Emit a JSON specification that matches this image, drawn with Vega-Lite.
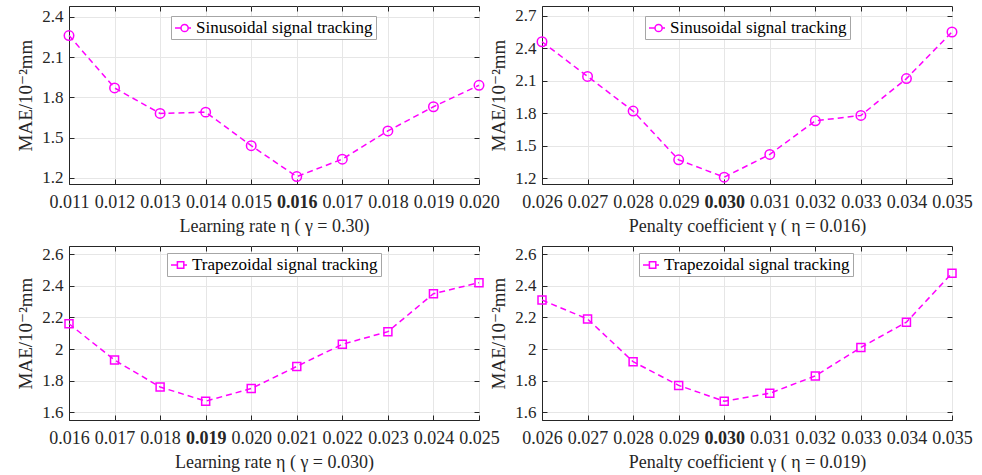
{
  "$schema": "https://vega.github.io/schema/vega-lite/v6.json",
  "background": "white",
  "padding": {"left": 16, "top": 5, "right": 5, "bottom": 5},
  "config": {
    "font": "'Liberation Serif', 'DejaVu Serif', serif",
    "axis": {
      "labelFont": "'Liberation Serif', 'DejaVu Serif', serif", "labelFontSize": 17, "labelColor": "#262626",
      "titleFont": "'Liberation Serif', 'DejaVu Serif', serif", "titleFontSize": 18, "titleFontWeight": "normal", "titleColor": "#262626",
      "gridColor": "#e6e6e6", "domainColor": "#262626", "tickColor": "#262626", "tickSize": -5,
      "labelOverlap": false, "labelFlush": false, "labelBound": false
    },
    "axisX": {"labelPadding": 14, "titlePadding": 6, "labelFontSize": 18},
    "axisY": {"labelPadding": 11, "titlePadding": 6, "titleFontSize": 19},
    "view": {"stroke": "#262626", "strokeWidth": 1},
    "legend": {
      "labelFont": "'Liberation Serif', 'DejaVu Serif', serif", "labelFontSize": 17, "labelColor": "black", "labelLimit": 400,
      "fillColor": "white", "strokeColor": "#a6a6a6", "padding": 3,
      "symbolStrokeColor": "#ff00ff", "symbolFillColor": "transparent", "symbolStrokeWidth": 1.5, "symbolDash": [],
      "symbolSize": 256, "labelOffset": 4
    }
  },
  "resolve": {"scale": {"color": "independent"}, "legend": {"color": "independent"}},
  "columns": 2,
  "spacing": {"row": 62, "column": 63},
  "bounds": "flush",
  "concat": [
    {
      "width": 410, "height": 178,
      "data": {"values": [
        {"x": 0.011, "y": 2.26, "s": "Sinusoidal signal tracking"},
        {"x": 0.012, "y": 1.87, "s": "Sinusoidal signal tracking"},
        {"x": 0.013, "y": 1.68, "s": "Sinusoidal signal tracking"},
        {"x": 0.014, "y": 1.69, "s": "Sinusoidal signal tracking"},
        {"x": 0.015, "y": 1.44, "s": "Sinusoidal signal tracking"},
        {"x": 0.016, "y": 1.21, "s": "Sinusoidal signal tracking"},
        {"x": 0.017, "y": 1.34, "s": "Sinusoidal signal tracking"},
        {"x": 0.018, "y": 1.55, "s": "Sinusoidal signal tracking"},
        {"x": 0.019, "y": 1.73, "s": "Sinusoidal signal tracking"},
        {"x": 0.020, "y": 1.89, "s": "Sinusoidal signal tracking"}
      ]},
      "encoding": {
        "x": {"field": "x", "type": "quantitative", "scale": {"domain": [0.011, 0.020], "nice": false, "zero": false},
          "axis": {"values": [0.011, 0.012, 0.013, 0.014, 0.015, 0.016, 0.017, 0.018, 0.019, 0.020], "format": ".3f", "title": "Learning rate η ( γ = 0.30)",
            "labelFontWeight": {"condition": {"test": "abs(datum.value-0.016)<1e-6", "value": "bold"}, "value": "normal"}}},
        "y": {"field": "y", "type": "quantitative", "scale": {"domain": [1.155, 2.48], "nice": false, "zero": false},
          "axis": {"values": [1.2, 1.5, 1.8, 2.1, 2.4], "format": "~g", "title": "MAE/10⁻²mm"}},
        "color": {"field": "s", "type": "nominal", "scale": {"range": ["#ff00ff"]},
          "legend": {"orient": "none", "legendX": 102, "legendY": 10, "title": null,
            "symbolType": "M-1,0H-0.25M0.65,0H1M0.65,0A0.45,0.45 0 1,1 -0.25,0A0.45,0.45 0 1,1 0.65,0"}}
      },
      "resolve": {"axis": {"x": "independent", "y": "independent"}},
      "layer": [
        {"mark": {"type": "line", "strokeDash": [6, 4], "strokeWidth": 1.5}},
        {"mark": {"type": "point", "shape": "circle", "filled": false, "size": 90, "strokeWidth": 1.5, "opacity": 1},
          "encoding": {
            "x": {"field": "x", "type": "quantitative", "axis": {"orient": "top", "values": [0.011, 0.012, 0.013, 0.014, 0.015, 0.016, 0.017, 0.018, 0.019, 0.020], "labels": false, "title": null, "grid": false, "domain": false}},
            "y": {"field": "y", "type": "quantitative", "axis": {"orient": "right", "values": [1.2, 1.5, 1.8, 2.1, 2.4], "labels": false, "title": null, "grid": false, "domain": false}}
          }}
      ]
    },
    {
      "width": 410, "height": 178,
      "data": {"values": [
        {"x": 0.026, "y": 2.46, "s": "Sinusoidal signal tracking"},
        {"x": 0.027, "y": 2.14, "s": "Sinusoidal signal tracking"},
        {"x": 0.028, "y": 1.82, "s": "Sinusoidal signal tracking"},
        {"x": 0.029, "y": 1.37, "s": "Sinusoidal signal tracking"},
        {"x": 0.030, "y": 1.21, "s": "Sinusoidal signal tracking"},
        {"x": 0.031, "y": 1.42, "s": "Sinusoidal signal tracking"},
        {"x": 0.032, "y": 1.73, "s": "Sinusoidal signal tracking"},
        {"x": 0.033, "y": 1.78, "s": "Sinusoidal signal tracking"},
        {"x": 0.034, "y": 2.12, "s": "Sinusoidal signal tracking"},
        {"x": 0.035, "y": 2.55, "s": "Sinusoidal signal tracking"}
      ]},
      "encoding": {
        "x": {"field": "x", "type": "quantitative", "scale": {"domain": [0.026, 0.035], "nice": false, "zero": false},
          "axis": {"values": [0.026, 0.027, 0.028, 0.029, 0.030, 0.031, 0.032, 0.033, 0.034, 0.035], "format": ".3f", "title": "Penalty coefficient γ ( η = 0.016)",
            "labelFontWeight": {"condition": {"test": "abs(datum.value-0.030)<1e-6", "value": "bold"}, "value": "normal"}}},
        "y": {"field": "y", "type": "quantitative", "scale": {"domain": [1.147, 2.79], "nice": false, "zero": false},
          "axis": {"values": [1.2, 1.5, 1.8, 2.1, 2.4, 2.7], "format": "~g", "title": "MAE/10⁻²mm"}},
        "color": {"field": "s", "type": "nominal", "scale": {"range": ["#ff00ff"]},
          "legend": {"orient": "none", "legendX": 103, "legendY": 10, "title": null,
            "symbolType": "M-1,0H-0.25M0.65,0H1M0.65,0A0.45,0.45 0 1,1 -0.25,0A0.45,0.45 0 1,1 0.65,0"}}
      },
      "resolve": {"axis": {"x": "independent", "y": "independent"}},
      "layer": [
        {"mark": {"type": "line", "strokeDash": [6, 4], "strokeWidth": 1.5}},
        {"mark": {"type": "point", "shape": "circle", "filled": false, "size": 90, "strokeWidth": 1.5, "opacity": 1},
          "encoding": {
            "x": {"field": "x", "type": "quantitative", "axis": {"orient": "top", "values": [0.026, 0.027, 0.028, 0.029, 0.030, 0.031, 0.032, 0.033, 0.034, 0.035], "labels": false, "title": null, "grid": false, "domain": false}},
            "y": {"field": "y", "type": "quantitative", "axis": {"orient": "right", "values": [1.2, 1.5, 1.8, 2.1, 2.4, 2.7], "labels": false, "title": null, "grid": false, "domain": false}}
          }}
      ]
    },
    {
      "width": 410, "height": 174,
      "data": {"values": [
        {"x": 0.016, "y": 2.16, "s": "Trapezoidal signal tracking"},
        {"x": 0.017, "y": 1.93, "s": "Trapezoidal signal tracking"},
        {"x": 0.018, "y": 1.76, "s": "Trapezoidal signal tracking"},
        {"x": 0.019, "y": 1.67, "s": "Trapezoidal signal tracking"},
        {"x": 0.020, "y": 1.75, "s": "Trapezoidal signal tracking"},
        {"x": 0.021, "y": 1.89, "s": "Trapezoidal signal tracking"},
        {"x": 0.022, "y": 2.03, "s": "Trapezoidal signal tracking"},
        {"x": 0.023, "y": 2.11, "s": "Trapezoidal signal tracking"},
        {"x": 0.024, "y": 2.35, "s": "Trapezoidal signal tracking"},
        {"x": 0.025, "y": 2.42, "s": "Trapezoidal signal tracking"}
      ]},
      "encoding": {
        "x": {"field": "x", "type": "quantitative", "scale": {"domain": [0.016, 0.025], "nice": false, "zero": false},
          "axis": {"values": [0.016, 0.017, 0.018, 0.019, 0.020, 0.021, 0.022, 0.023, 0.024, 0.025], "format": ".3f", "title": "Learning rate η ( γ = 0.030)",
            "labelFontWeight": {"condition": {"test": "abs(datum.value-0.019)<1e-6", "value": "bold"}, "value": "normal"}}},
        "y": {"field": "y", "type": "quantitative", "scale": {"domain": [1.551, 2.652], "nice": false, "zero": false},
          "axis": {"values": [1.6, 1.8, 2.0, 2.2, 2.4, 2.6], "format": "~g", "title": "MAE/10⁻²mm"}},
        "color": {"field": "s", "type": "nominal", "scale": {"range": ["#ff00ff"]},
          "legend": {"orient": "none", "legendX": 98, "legendY": 7, "title": null,
            "symbolType": "M-1,0H-0.2M0.6,0H1M-0.2,-0.4H0.6V0.4H-0.2Z"}}
      },
      "resolve": {"axis": {"x": "independent", "y": "independent"}},
      "layer": [
        {"mark": {"type": "line", "strokeDash": [6, 4], "strokeWidth": 1.5}},
        {"mark": {"type": "point", "shape": "square", "filled": false, "size": 64, "strokeWidth": 1.5, "opacity": 1},
          "encoding": {
            "x": {"field": "x", "type": "quantitative", "axis": {"orient": "top", "values": [0.016, 0.017, 0.018, 0.019, 0.020, 0.021, 0.022, 0.023, 0.024, 0.025], "labels": false, "title": null, "grid": false, "domain": false}},
            "y": {"field": "y", "type": "quantitative", "axis": {"orient": "right", "values": [1.6, 1.8, 2.0, 2.2, 2.4, 2.6], "labels": false, "title": null, "grid": false, "domain": false}}
          }}
      ]
    },
    {
      "width": 410, "height": 174,
      "data": {"values": [
        {"x": 0.026, "y": 2.31, "s": "Trapezoidal signal tracking"},
        {"x": 0.027, "y": 2.19, "s": "Trapezoidal signal tracking"},
        {"x": 0.028, "y": 1.92, "s": "Trapezoidal signal tracking"},
        {"x": 0.029, "y": 1.77, "s": "Trapezoidal signal tracking"},
        {"x": 0.030, "y": 1.67, "s": "Trapezoidal signal tracking"},
        {"x": 0.031, "y": 1.72, "s": "Trapezoidal signal tracking"},
        {"x": 0.032, "y": 1.83, "s": "Trapezoidal signal tracking"},
        {"x": 0.033, "y": 2.01, "s": "Trapezoidal signal tracking"},
        {"x": 0.034, "y": 2.17, "s": "Trapezoidal signal tracking"},
        {"x": 0.035, "y": 2.48, "s": "Trapezoidal signal tracking"}
      ]},
      "encoding": {
        "x": {"field": "x", "type": "quantitative", "scale": {"domain": [0.026, 0.035], "nice": false, "zero": false},
          "axis": {"values": [0.026, 0.027, 0.028, 0.029, 0.030, 0.031, 0.032, 0.033, 0.034, 0.035], "format": ".3f", "title": "Penalty coefficient γ ( η = 0.019)",
            "labelFontWeight": {"condition": {"test": "abs(datum.value-0.030)<1e-6", "value": "bold"}, "value": "normal"}}},
        "y": {"field": "y", "type": "quantitative", "scale": {"domain": [1.551, 2.652], "nice": false, "zero": false},
          "axis": {"values": [1.6, 1.8, 2.0, 2.2, 2.4, 2.6], "format": "~g", "title": "MAE/10⁻²mm"}},
        "color": {"field": "s", "type": "nominal", "scale": {"range": ["#ff00ff"]},
          "legend": {"orient": "none", "legendX": 97, "legendY": 7, "title": null,
            "symbolType": "M-1,0H-0.2M0.6,0H1M-0.2,-0.4H0.6V0.4H-0.2Z"}}
      },
      "resolve": {"axis": {"x": "independent", "y": "independent"}},
      "layer": [
        {"mark": {"type": "line", "strokeDash": [6, 4], "strokeWidth": 1.5}},
        {"mark": {"type": "point", "shape": "square", "filled": false, "size": 64, "strokeWidth": 1.5, "opacity": 1},
          "encoding": {
            "x": {"field": "x", "type": "quantitative", "axis": {"orient": "top", "values": [0.026, 0.027, 0.028, 0.029, 0.030, 0.031, 0.032, 0.033, 0.034, 0.035], "labels": false, "title": null, "grid": false, "domain": false}},
            "y": {"field": "y", "type": "quantitative", "axis": {"orient": "right", "values": [1.6, 1.8, 2.0, 2.2, 2.4, 2.6], "labels": false, "title": null, "grid": false, "domain": false}}
          }}
      ]
    }
  ]
}
